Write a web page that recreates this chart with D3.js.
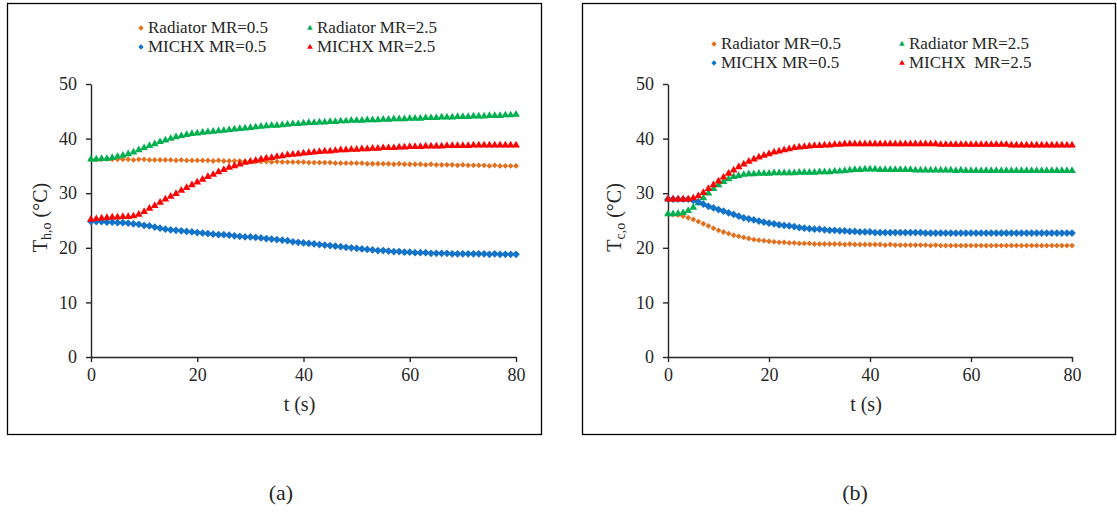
<!DOCTYPE html>
<html lang="en">
<head>
<meta charset="UTF-8">
<title>Outlet temperatures</title>
<script src="https://cdn.jsdelivr.net/npm/d3@7"></script>
<style>
    body { margin: 0; background: #fff; }
    text { fill: #262626; }
    .frame { fill: none; stroke: #000; stroke-width: 1.3; }
    .axis path, .axis line { stroke: #262626; stroke-width: 1.4; }
</style>
</head>
<body>
<svg id="chart" width="1117" height="512"></svg>
<script>

// time (s)
var time = [0,1,2,3,4,5,6,7,8,9,10,11,12,13,14,15,16,17,18,19,20,21,22,23,24,25,26,27,28,29,30,
    31,32,33,34,35,36,37,38,39,40,41,42,43,44,45,46,47,48,49,50,51,52,53,54,55,56,57,58,59,60,
    61,62,63,64,65,66,67,68,69,70,71,72,73,74,75,76,77,78,79,80];

// (a) hot side outlet temperature
var radA05 = [36.2,36.2,36.2,36.3,36.2,36.2,36.2,36.2,36.1,36.2,36.2,
    36.1,36.1,36.1,36.1,36.1,36.0,36.1,36.0,36.0,36.0,
    36.0,36.0,35.9,36.0,35.9,35.9,35.9,35.9,35.8,35.8,
    35.8,35.8,35.8,35.7,35.8,35.7,35.7,35.7,35.7,35.7,
    35.6,35.6,35.6,35.6,35.6,35.5,35.5,35.5,35.5,35.5,
    35.5,35.4,35.4,35.4,35.4,35.4,35.3,35.4,35.3,35.3,
    35.3,35.3,35.2,35.3,35.2,35.2,35.2,35.2,35.1,35.2,
    35.1,35.1,35.1,35.1,35.0,35.1,35.0,35.0,35.0,35.0];
var radA25 = [36.2,36.2,36.3,36.3,36.5,36.7,36.9,37.2,37.5,37.9,38.3,
    38.7,39.0,39.4,39.7,40.0,40.3,40.5,40.7,40.9,41.0,
    41.1,41.2,41.3,41.4,41.5,41.6,41.7,41.8,41.9,42.0,
    42.1,42.2,42.3,42.4,42.4,42.5,42.6,42.7,42.7,42.8,
    42.9,42.9,43.0,43.0,43.1,43.1,43.2,43.2,43.3,43.3,
    43.3,43.4,43.4,43.4,43.5,43.5,43.6,43.6,43.6,43.7,
    43.7,43.7,43.8,43.8,43.8,43.9,43.9,43.9,44.0,44.0,
    44.0,44.1,44.1,44.1,44.2,44.2,44.2,44.3,44.3,44.4];
var michA05 = [24.8,24.8,24.8,24.7,24.7,24.6,24.6,24.5,24.4,24.3,24.1,
    24.0,23.8,23.6,23.4,23.3,23.2,23.1,23.0,22.9,22.8,
    22.7,22.6,22.5,22.4,22.4,22.3,22.2,22.1,22.0,22.0,
    21.9,21.8,21.7,21.6,21.5,21.4,21.3,21.1,21.0,20.9,
    20.8,20.7,20.6,20.5,20.4,20.3,20.2,20.1,20.0,19.9,
    19.8,19.7,19.6,19.5,19.5,19.4,19.3,19.3,19.2,19.2,
    19.1,19.1,19.1,19.0,19.0,19.0,19.0,18.9,18.9,18.9,
    18.9,18.9,18.9,18.9,18.8,18.9,18.8,18.8,18.8,18.8];
var michA25 = [25.2,25.3,25.4,25.5,25.6,25.6,25.7,25.7,25.8,26.1,26.6,
    27.2,27.7,28.3,28.9,29.4,29.9,30.5,31.0,31.5,32.0,
    32.5,33.0,33.4,33.9,34.3,34.7,35.0,35.3,35.6,35.8,
    36.0,36.2,36.4,36.5,36.7,36.8,37.0,37.1,37.2,37.3,
    37.4,37.5,37.6,37.7,37.7,37.8,37.9,37.9,38.0,38.0,
    38.1,38.1,38.2,38.2,38.3,38.3,38.3,38.4,38.4,38.5,
    38.5,38.5,38.6,38.6,38.6,38.6,38.7,38.7,38.7,38.7,
    38.7,38.8,38.8,38.8,38.8,38.8,38.8,38.8,38.8,38.8];

// (b) cold side outlet temperature
var radB05 = [26.2,26.1,26.0,25.8,25.5,25.2,24.8,24.4,24.0,23.6,23.2,
    22.9,22.6,22.3,22.1,21.9,21.7,21.5,21.4,21.3,21.2,
    21.1,21.0,21.0,20.9,20.9,20.8,20.8,20.8,20.7,20.7,
    20.7,20.7,20.7,20.7,20.6,20.7,20.6,20.6,20.6,20.6,
    20.6,20.6,20.5,20.6,20.5,20.5,20.5,20.5,20.5,20.5,
    20.5,20.4,20.5,20.4,20.4,20.4,20.4,20.4,20.4,20.4,
    20.4,20.4,20.4,20.4,20.4,20.4,20.4,20.4,20.4,20.4,
    20.4,20.4,20.4,20.4,20.4,20.4,20.4,20.4,20.4,20.4];
var radB25 = [26.2,26.2,26.3,26.4,26.8,27.4,28.2,29.1,30.0,30.8,31.5,
    32.1,32.6,33.0,33.2,33.4,33.5,33.5,33.6,33.6,33.6,
    33.7,33.7,33.7,33.7,33.7,33.8,33.8,33.8,33.8,33.9,
    33.9,33.9,34.0,34.0,34.1,34.2,34.3,34.3,34.4,34.4,
    34.4,34.3,34.3,34.3,34.3,34.3,34.3,34.3,34.2,34.2,
    34.2,34.2,34.2,34.2,34.2,34.2,34.1,34.2,34.1,34.1,
    34.1,34.1,34.1,34.1,34.1,34.1,34.1,34.1,34.1,34.1,
    34.1,34.1,34.1,34.1,34.1,34.1,34.1,34.1,34.1,34.1];
var michB05 = [28.9,28.9,28.9,28.9,28.9,28.7,28.4,28.0,27.6,27.3,27.0,
    26.7,26.4,26.1,25.8,25.5,25.3,25.1,24.9,24.7,24.5,
    24.4,24.2,24.1,24.0,23.9,23.7,23.6,23.5,23.4,23.4,
    23.3,23.2,23.2,23.1,23.1,23.0,23.0,22.9,22.9,22.9,
    22.8,22.8,22.8,22.8,22.8,22.8,22.8,22.8,22.8,22.8,
    22.7,22.7,22.7,22.7,22.7,22.7,22.7,22.7,22.7,22.7,
    22.7,22.7,22.7,22.7,22.7,22.7,22.7,22.7,22.7,22.7,
    22.7,22.7,22.7,22.7,22.7,22.7,22.7,22.7,22.7,22.7];
var michB25 = [28.9,28.9,28.9,28.9,28.9,29.1,29.5,30.1,30.8,31.5,32.2,
    32.9,33.6,34.2,34.8,35.3,35.8,36.2,36.6,36.9,37.2,
    37.5,37.7,37.9,38.1,38.3,38.4,38.5,38.6,38.7,38.7,
    38.8,38.8,38.9,38.9,39.0,39.0,39.0,39.0,39.0,39.0,
    39.0,39.0,39.0,39.0,39.0,39.0,39.0,39.0,39.0,39.0,
    39.0,39.0,39.0,38.9,38.9,38.9,38.9,38.9,38.9,38.9,
    38.9,38.9,38.9,38.9,38.9,38.9,38.9,38.8,38.8,38.8,
    38.8,38.8,38.8,38.8,38.8,38.8,38.8,38.8,38.8,38.8];

var xTicks = [0, 20, 40, 60, 80];
var yTicks = [0, 10, 20, 30, 40, 50];

var legendA = ["Radiator MR=0.5", "Radiator MR=2.5", "MICHX MR=0.5", "MICHX MR=2.5"];
var legendB = ["Radiator MR=0.5", "Radiator MR=2.5", "MICHX MR=0.5", "MICHX  MR=2.5"];

var colors = ["#E2701F", "#00B050", "#1273C8", "#FF0000"];
// diamonds are squares turned by 45 degrees
var shapes = [d3.symbolSquare, d3.symbolTriangle, d3.symbolSquare, d3.symbolTriangle];
var turns = [45, 0, 45, 0];
var sizes = [17, 26, 30, 26];

var serif = "Liberation Serif";

var svg = d3.select("#chart");

function drawPanel(p) {
    var g = svg.append("g");

    g.append("rect").attr("class", "frame")
        .attr("x", p.frame[0]).attr("y", p.frame[1])
        .attr("width", p.frame[2]).attr("height", p.frame[3]);

    var x = d3.scaleLinear().domain([0, 80]).range([p.left, p.right]);
    var y = d3.scaleLinear().domain([0, 50]).range([p.bottom, p.top]);

    g.append("g").attr("class", "axis")
        .attr("transform", "translate(0," + p.bottom + ")")
        .call(d3.axisBottom(x).tickValues(xTicks).tickSize(5).tickSizeOuter(0).tickPadding(6));
    g.append("g").attr("class", "axis")
        .attr("transform", "translate(" + p.left + ",0)")
        .call(d3.axisLeft(y).tickValues(yTicks).tickSize(5).tickSizeOuter(0).tickPadding(9));

    g.selectAll(".axis").attr("font-family", serif).attr("font-size", 18);
    g.selectAll(".axis text").attr("font-family", serif).attr("fill", "#262626");

    // series
    p.series.forEach(function (vals, k) {
        var sym = d3.symbol().type(shapes[k]).size(sizes[k]);
        g.append("g").selectAll("path")
            .data(vals)
            .enter()
            .append("path")
            .attr("transform", function (d, i) {
                return "translate(" + x(time[i]) + "," + y(d) + ") rotate(" + turns[k] + ")";
            })
            .attr("d", sym)
            .attr("fill", colors[k]);
    });

    // axis titles
    g.append("text")
        .attr("x", (p.left + p.right) / 2 - 4).attr("y", 411)
        .attr("text-anchor", "middle")
        .attr("font-family", serif)
        .attr("font-size", 20)
        .text("t (s)");

    var yt = g.append("text")
        .attr("transform", "translate(" + p.ytx + "," + ((p.top + p.bottom) / 2 - 3) + ") rotate(-90)")
        .attr("text-anchor", "middle")
        .attr("font-family", serif)
        .attr("font-size", 20);
    yt.append("tspan").text("T");
    yt.append("tspan").attr("dy", 4).attr("font-size", 14).text(p.sub);
    yt.append("tspan").attr("dy", -4).text(" (\u00B0C)");

    // legend
    var leg = g.append("g");
    p.legend.forEach(function (label, k) {
        var lx = p.legX[k % 2];
        var ly = p.legY[Math.floor(k / 2)];
        leg.append("path")
            .attr("transform", "translate(" + lx + "," + ly + ") rotate(" + turns[k] + ")")
            .attr("d", d3.symbol().type(shapes[k]).size(14))
            .attr("fill", colors[k]);
        leg.append("text")
            .attr("x", lx + 7).attr("y", ly + 5)
            .attr("font-family", serif)
            .attr("font-size", 17)
            .style("white-space", "pre")
            .text(label);
    });

    // caption
    g.append("text")
        .attr("x", p.capX).attr("y", 500)
        .attr("text-anchor", "middle")
        .attr("font-family", serif)
        .attr("font-size", 22)
        .attr("fill", "#000")
        .text(p.caption);
}

drawPanel({
    frame: [7.5, 3.5, 534, 431],
    left: 91, right: 516, top: 84, bottom: 357,
    ytx: 47, sub: "h,o",
    series: [radA05, radA25, michA05, michA25],
    legend: legendA, legX: [141, 310], legY: [28, 47],
    capX: 281, caption: "(a)"
});

drawPanel({
    frame: [582.5, 3.5, 533, 431],
    left: 668, right: 1072, top: 84, bottom: 357,
    ytx: 621, sub: "c,o",
    series: [radB05, radB25, michB05, michB25],
    legend: legendB, legX: [714, 902], legY: [44, 63],
    capX: 855, caption: "(b)"
});

</script>
</body>
</html>
